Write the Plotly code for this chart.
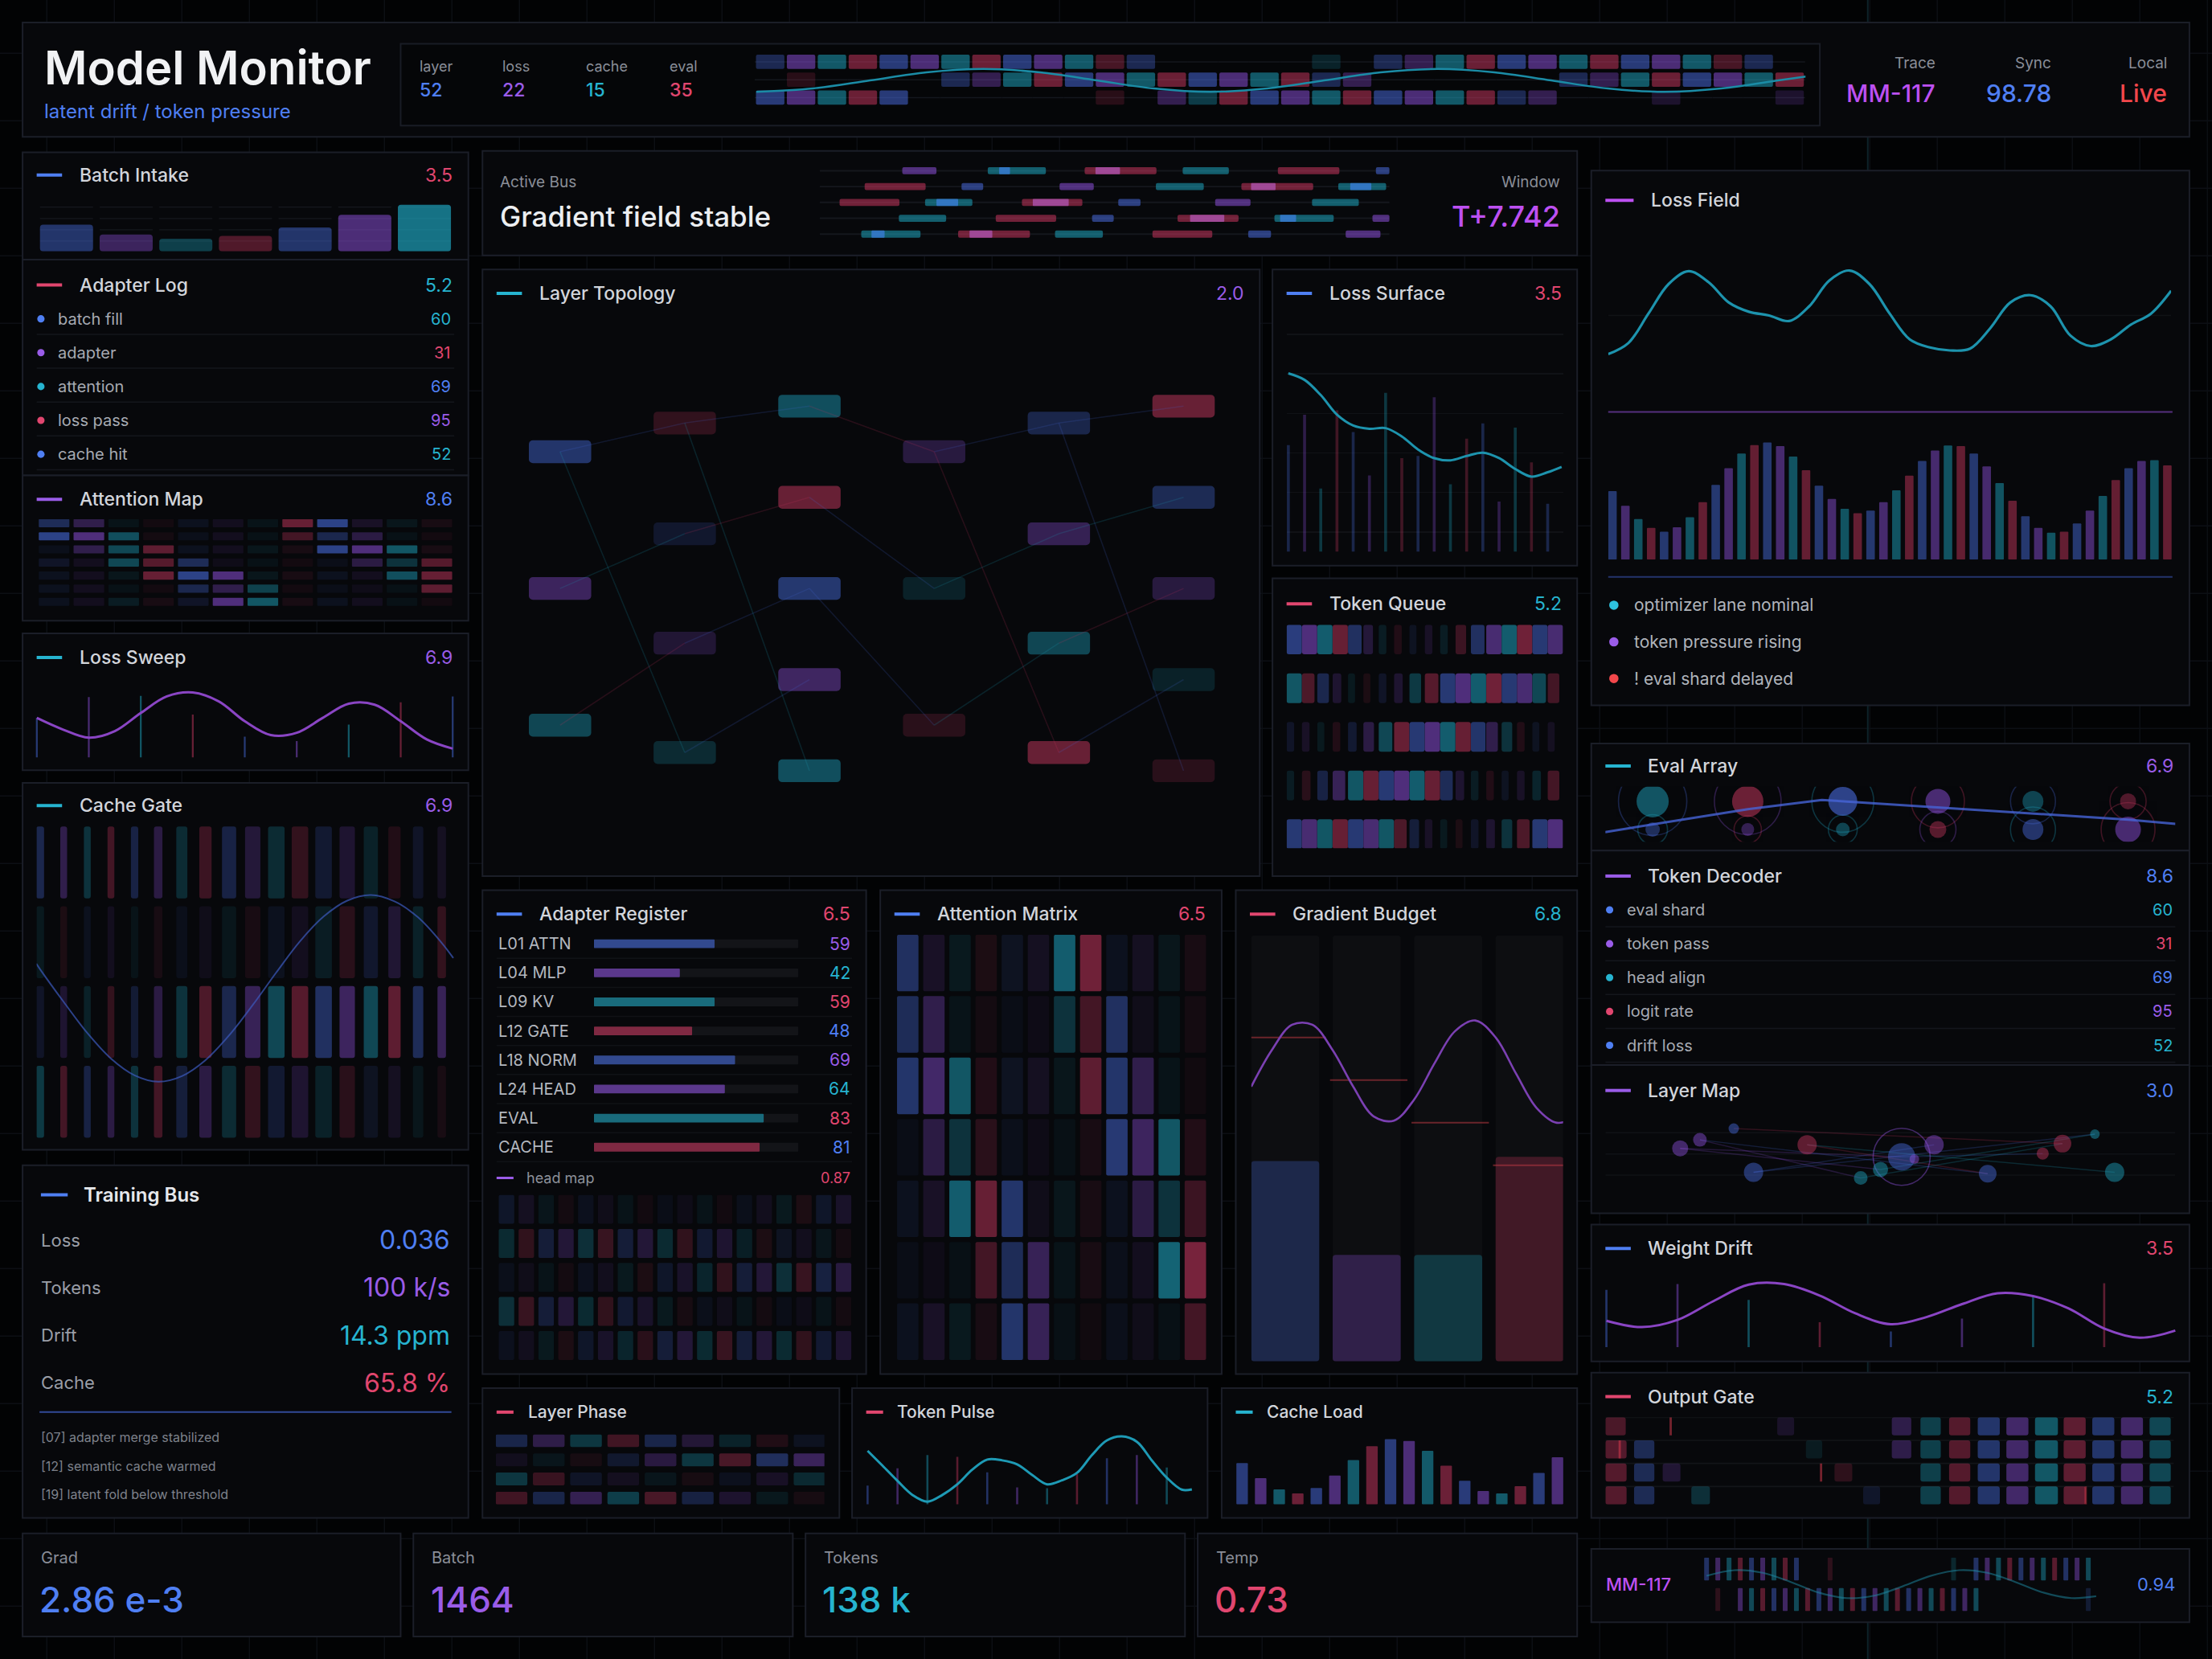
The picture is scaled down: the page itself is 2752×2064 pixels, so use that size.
import plotly.graph_objects as go

SW, SH = 1568.0, 1176.0
W, H = 2752, 2064
FONT = "Inter, 'Noto Sans', Roboto, sans-serif"
BG = '#020304'
PANEL = '#07080b'
BORDER = '#1b1e28'
GRIDC = '#0c0f14'
TITLE_C = '#d2d5db'
LABEL_C = '#8a8e98'
PAL = {'b': (72, 108, 222), 'p': (140, 80, 218), 't': (30, 165, 192), 'r': (200, 55, 95)}
TXT = {'b': '#4f7ff3', 'p': '#9a5ce8', 't': '#26b4d0', 'r': '#e1466f', 'm': '#bd50f2', 'l': '#f2474b'}
CYC = ['b', 'p', 't', 'r']

# ======================= DATA =======================
hdr_stat_names = ['layer', 'loss', 'cache', 'eval']
hdr_stat_vals = [52, 22, 15, 35]
hdr_stat_cols = ['b', 'p', 't', 'r']
hdr_right_names = ['Trace', 'Sync', 'Local']
hdr_right_vals = ['MM-117', '98.78', 'Live']
hdr_right_cols = ['m', 'b', 'l']
hdr_strip0 = [2, 3, 3, 3, 3, 3, 3, 3, 3, 3, 3, 2, 2, 0, 0, 0, 0, 0, 1, 0, 2, 2, 3, 3, 3, 3, 3, 3, 3, 3, 3, 2, 2, 0]
hdr_strip1 = [0, 1, 0, 0, 0, 0, 2, 2, 3, 3, 3, 3, 3, 3, 3, 3, 3, 3, 2, 2, 0, 0, 0, 0, 0, 0, 2, 2, 3, 3, 3, 3, 3, 3]
hdr_strip2 = [3, 3, 3, 3, 3, 0, 0, 0, 0, 0, 0, 1, 0, 2, 2, 3, 3, 3, 3, 3, 3, 3, 3, 3, 2, 2, 0, 0, 0, 1, 0, 0, 0, 1]
hdr_strip_shift = [0, 2, 0]
hdr_wave_x = [-0.45, 1.39, 3.23, 5.06, 6.9, 8.74, 10.58, 12.41, 14.25, 16.09, 17.93, 19.76, 21.6, 23.44, 25.28, 27.11, 28.95, 30.79, 32.63, 33.52]
hdr_wave_y = [2.14, 1.95, 1.5, 1.05, 0.86, 1.05, 1.5, 1.95, 2.14, 1.95, 1.5, 1.05, 0.86, 1.05, 1.5, 1.95, 2.14, 1.95, 1.5, 1.28]

batch_vals = [19, 12, 9, 11, 17, 26, 33]
batch_heat = [0.45, 0.4, 0.35, 0.38, 0.45, 0.52, 0.68]
batch_tracks = [31, 23, 15, 7]

log_items = ['batch fill', 'adapter', 'attention', 'loss pass', 'cache hit']
log_dot = ['b', 'p', 't', 'r', 'b']
log_vals = [60, 31, 69, 95, 52]
log_valc = ['t', 'r', 'b', 'p', 't']

attn_map = [
    [0.4, 0.35, 0.08, 0.05, 0.1, 0.1, 0.08, 0.55, 0.65, 0.15, 0.1, 0.1],
    [0.65, 0.6, 0.5, 0.08, 0.08, 0.1, 0.05, 0.35, 0.35, 0.3, 0.05, 0.05],
    [0.08, 0.35, 0.45, 0.5, 0.1, 0.1, 0.1, 0.1, 0.65, 0.6, 0.55, 0.1],
    [0.15, 0.1, 0.45, 0.45, 0.4, 0.05, 0.05, 0.05, 0.05, 0.3, 0.3, 0.45],
    [0.1, 0.1, 0.1, 0.55, 0.65, 0.6, 0.1, 0.1, 0.1, 0.1, 0.5, 0.55],
    [0.1, 0.1, 0.05, 0.05, 0.35, 0.35, 0.4, 0.05, 0.05, 0.05, 0.05, 0.5],
    [0.1, 0.1, 0.15, 0.1, 0.15, 0.6, 0.55, 0.1, 0.1, 0.1, 0.05, 0.05],
]

sweep_stems = [120, 183, 187, 130, 63, 50, 100, 167, 185]
sweep_curve = [120, 85, 60, 80, 135, 185, 197, 170, 110, 68, 75, 120, 163, 160, 110, 55, 27]

gate_width = [0.34, 0.29, 0.29, 0.29, 0.31, 0.36, 0.47, 0.52, 0.6, 0.65, 0.7, 0.7, 0.7, 0.65, 0.6, 0.52, 0.44, 0.36]
gate_heat = [
    [0.35, 0.35, 0.3, 0.35, 0.3, 0.3, 0.25, 0.3, 0.3, 0.25, 0.25, 0.25, 0.2, 0.2, 0.18, 0.15, 0.15, 0.12],
    [0.12, 0.12, 0.1, 0.1, 0.08, 0.1, 0.08, 0.08, 0.1, 0.1, 0.1, 0.1, 0.15, 0.2, 0.18, 0.22, 0.18, 0.25],
    [0.15, 0.2, 0.18, 0.25, 0.22, 0.3, 0.3, 0.4, 0.35, 0.4, 0.45, 0.45, 0.45, 0.45, 0.45, 0.5, 0.4, 0.4],
    [0.35, 0.35, 0.3, 0.3, 0.3, 0.35, 0.25, 0.3, 0.25, 0.25, 0.2, 0.2, 0.18, 0.2, 0.12, 0.12, 0.1, 0.1],
]
gate_shift = [0, 2, 0, 2]
gate_wave_x = [-0.16, 0, 1, 2, 3, 4, 5, 6, 7, 8, 9, 10, 11, 12, 13, 14, 15, 16, 17, 17.49]
gate_wave_y = [1.72, 1.79, 2.2, 2.59, 2.91, 3.12, 3.2, 3.13, 2.93, 2.62, 2.24, 1.83, 1.44, 1.13, 0.93, 0.86, 0.94, 1.14, 1.46, 1.65]

train_labels = ['Loss', 'Tokens', 'Drift', 'Cache']
train_values = ['0.036', '100 k/s', '14.3 ppm', '65.8 %']
train_cols = ['b', 'p', 't', 'r']
train_log = ['[07] adapter merge stabilized', '[12] semantic cache warmed', '[19] latent fold below threshold']

card_labels = ['Grad', 'Batch', 'Tokens', 'Temp']
card_values = ['2.86 e-3', '1464', '138 k', '0.73']
card_cols = ['b', 'p', 't', 'r']

bus_segments = [
    [('p', 14.5, 20.5), ('t', 29.5, 39.7), ('r', 46.5, 59.1), ('t', 63.7, 71.8), ('r', 80.4, 91.2), ('b', 97.6, 100)],
    [('r', 7.9, 18.6), ('b', 24.9, 28.7), ('p', 42.1, 48.1), ('t', 59, 67.4), ('r', 74, 86.6), ('t', 91, 99.4)],
    [('r', 3.5, 14), ('t', 18.5, 26.8), ('r', 35.5, 46.1), ('b', 52.4, 56.3), ('p', 69.4, 75.6), ('t', 86.4, 94.6)],
    [('t', 13.9, 22.2), ('r', 30.9, 41.5), ('b', 47.8, 51.6), ('r', 62.8, 73.5), ('t', 79.8, 90.2), ('p', 97, 100)],
    [('t', 7.3, 17.7), ('r', 24.3, 36.9), ('t', 41.3, 49.7), ('r', 58.4, 68.9), ('b', 75.2, 79.2), ('p', 92.3, 98.4)],
]
bus_highlights = [
    [('b', 31.5, 33.4), ('p', 48.4, 52.7)],
    [('p', 75.7, 80), ('b', 93.1, 96.8)],
    [('b', 20.5, 24.3), ('p', 37.4, 43.7)],
    [('p', 65, 71), ('b', 80.8, 83.6)],
    [('b', 9.1, 11.4), ('p', 26.3, 30.3)],
]

topo_layer = [0, 0, 0, 1, 1, 1, 1, 2, 2, 2, 2, 2, 3, 3, 3, 4, 4, 4, 4, 5, 5, 5, 5, 5]
topo_level = [1, 4, 7, 0.37, 2.8, 5.2, 7.6, 0, 2, 4, 6, 8, 1, 4, 7, 0.37, 2.8, 5.2, 7.6, 0, 2, 4, 6, 8]
topo_kind = ['b', 'p', 't', 'r', 'b', 'p', 't', 't', 'r', 'b', 'p', 't', 'p', 't', 'r', 'b', 'p', 't', 'r', 'r', 'b', 'p', 't', 'r']
topo_heat = [0.45, 0.4, 0.4, 0.22, 0.16, 0.2, 0.22, 0.45, 0.5, 0.48, 0.42, 0.45, 0.25, 0.16, 0.18, 0.3, 0.35, 0.4, 0.5, 0.5, 0.35, 0.25, 0.16, 0.18]
topo_edges = [(0, 3), (3, 7), (7, 12), (12, 15), (15, 19), (0, 6), (3, 11), (1, 4), (4, 8), (8, 13), (13, 16), (16, 20),
              (2, 5), (5, 9), (9, 14), (14, 17), (17, 21), (6, 10), (12, 18), (18, 22), (15, 23)]
topo_edge_kind = ['b', 'b', 'r', 'b', 'b', 't', 't', 't', 'r', 'b', 't', 't', 'r', 'b', 'b', 't', 'r', 'b', 'r', 'b', 'b']

surf_bars = [49, 63, 29, 65, 55, 35, 73, 43, 44, 71, 31, 52, 59, 23, 57, 41, 22]
surf_line = [82, 79, 72, 63, 58, 56.5, 56.8, 53, 47, 43, 42, 44, 45.5, 43, 38, 34.5, 36.5, 39]

queue_heat = [
    [0.6, 0.6, 0.6, 0.55, 0.45, 0.25, 0.15, 0.15, 0.12, 0.15, 0.15, 0.3, 0.45, 0.55, 0.6, 0.6, 0.55, 0.55],
    [0.55, 0.4, 0.35, 0.2, 0.12, 0.12, 0.15, 0.2, 0.35, 0.45, 0.55, 0.6, 0.6, 0.6, 0.55, 0.55, 0.45, 0.35],
    [0.15, 0.15, 0.12, 0.15, 0.2, 0.3, 0.45, 0.55, 0.55, 0.6, 0.6, 0.55, 0.5, 0.35, 0.3, 0.15, 0.12, 0.12],
    [0.15, 0.2, 0.3, 0.4, 0.55, 0.55, 0.55, 0.6, 0.6, 0.55, 0.4, 0.2, 0.15, 0.15, 0.12, 0.15, 0.2, 0.35],
    [0.55, 0.55, 0.55, 0.55, 0.55, 0.55, 0.55, 0.4, 0.25, 0.15, 0.12, 0.12, 0.15, 0.2, 0.3, 0.4, 0.55, 0.6],
]
queue_shift = [0, 2, 0, 2, 0]

field_curve = [30, 60, 140, 220, 255, 225, 170, 145, 135, 120, 160, 230, 257, 220, 140, 70, 48, 40, 45, 100, 170, 190, 160, 80, 52, 70, 110, 140, 202]
field_bars = [186, 146, 110, 86, 76, 88, 115, 156, 203, 248, 288, 311, 318, 308, 280, 243, 201, 165, 138, 126, 133, 156, 188, 228,
              268, 296, 310, 308, 288, 253, 208, 160, 118, 86, 73, 76, 98, 133, 173, 216, 248, 268, 270, 256]
field_notes = ['optimizer lane nominal', 'token pressure rising', '! eval shard delayed']
field_note_cols = ['#2ec2df', '#9a5ce8', '#f2474b']

eval_hi = [40, 39, 36, 31, 26, 20]
eval_lo = [18, 16, 17, 21, 26, 32]
eval_hi_ring = [85, 83, 77, 66, 56, 45]
eval_lo_ring = [37, 34, 36, 45, 56, 67]
eval_hi_kind = ['t', 'r', 'b', 'p', 't', 'r']
eval_lo_kind = ['b', 'p', 't', 'r', 'b', 'p']
eval_hi_alpha = [0.7, 0.75, 0.85, 0.72, 0.55, 0.55]
eval_lo_alpha = [0.55, 0.5, 0.55, 0.6, 0.65, 0.7]
eval_hi_ring_kind = ['b', 'p', 't', 'r', 'b', 'r']
eval_lo_ring_kind = ['t', 'r', 't', 'p', 't', 'r']
eval_trend_x = [-0.5, 1.0, 1.78, 2.23, 4.0, 5.0, 5.5]
eval_trend_y = [-0.09, 0.72, 1.05, 0.95, 0.56, 0.35, 0.2]

dec_items = ['eval shard', 'token pass', 'head align', 'logit rate', 'drift loss']
dec_dot = ['b', 'p', 't', 'r', 'b']
dec_vals = [60, 31, 69, 95, 52]
dec_valc = ['t', 'r', 'b', 'p', 't']

map_x = [53, 67, 91, 105, 143, 181, 195, 210, 219, 233, 271, 310, 324, 347, 361]
map_y = [31, 37, 45, 14, 33.5, 10, 16, 25, 23.4, 33.5, 13, 27.3, 34.3, 41, 14]
map_size = [20, 17, 13, 24, 24, 17, 19, 34, 12, 24, 22, 15, 22, 12, 24]
map_kind = ['p', 'p', 'b', 'b', 'r', 't', 't', 'b', 'p', 'p', 'b', 'r', 'r', 't', 't']
map_edges = [(0, 6), (1, 10), (2, 12), (3, 9), (4, 14), (5, 12), (6, 13), (0, 7), (7, 11), (4, 10), (3, 13), (1, 5)]
map_edge_kind = ['p', 'b', 'r', 'b', 't', 't', 't', 'p', 'b', 'r', 'b', 'p']

drift_stems = [200, 220, 165, 87, 55, 100, 177, 223]
drift_curve = [92, 70, 95, 160, 218, 220, 180, 118, 80, 105, 150, 188, 178, 135, 65, 33, 58]

out_heat = [
    [0.35, 0, 0, 0, 0, 0, 0.15, 0, 0, 0, 0.3, 0.35, 0.4, 0.45, 0.45, 0.5, 0.45, 0.45, 0.45, 0.4],
    [0.4, 0.35, 0, 0, 0, 0, 0, 0.12, 0, 0, 0.3, 0.35, 0.4, 0.45, 0.45, 0.5, 0.45, 0.45, 0.45, 0.4],
    [0.4, 0.35, 0.2, 0, 0, 0, 0, 0, 0.2, 0, 0, 0.35, 0.4, 0.45, 0.45, 0.5, 0.45, 0.45, 0.45, 0.4],
    [0.4, 0.35, 0, 0.25, 0, 0, 0, 0, 0, 0.15, 0, 0.35, 0.4, 0.45, 0.45, 0.5, 0.45, 0.45, 0.45, 0.4],
]
out_cycle = ['r', 'b', 'p', 't']
out_ticks_row = [0, 1, 2, 3]
out_ticks_x = [2.24, 0.46, 7.49, 16.73]

mm_top = [3] * 9 + [0, 0, 2] + [0] * 10 + [2, 0] + [3] * 11
mm_bot = [0, 2, 0] + [3] * 22 + [0] * 9 + [2]
mm_wave_x = [0, 2.5, 5, 7.5, 10, 12.5, 15, 17.5, 20, 22.5, 25, 27.5, 30, 32.5, 34.7]
mm_wave_y = [0.6, 0.415, 0.5, 0.8, 1.145, 1.325, 1.24, 0.935, 0.596, 0.415, 0.5, 0.8, 1.145, 1.325, 1.264]

reg_names = ['L01 ATTN', 'L04 MLP', 'L09 KV', 'L12 GATE', 'L18 NORM', 'L24 HEAD', 'EVAL', 'CACHE']
reg_vals = [59, 42, 59, 48, 69, 64, 83, 81]
reg_bar = ['b', 'p', 't', 'r', 'b', 'p', 't', 'r']
reg_valc = ['p', 't', 'r', 'b', 'p', 't', 'r', 'b']
head_map = [
    [0.2, 0.15, 0.12, 0.1, 0.12, 0.1, 0.1, 0.08, 0.08, 0.08, 0.1, 0.08, 0.1, 0.12, 0.15, 0.15, 0.2, 0.2],
    [0.3, 0.3, 0.3, 0.3, 0.35, 0.35, 0.3, 0.3, 0.3, 0.3, 0.25, 0.25, 0.2, 0.15, 0.15, 0.12, 0.12, 0.1],
    [0.1, 0.1, 0.1, 0.1, 0.12, 0.12, 0.15, 0.15, 0.2, 0.2, 0.25, 0.3, 0.3, 0.3, 0.35, 0.35, 0.35, 0.35],
    [0.35, 0.35, 0.3, 0.3, 0.3, 0.3, 0.25, 0.2, 0.15, 0.12, 0.1, 0.1, 0.1, 0.1, 0.08, 0.08, 0.1, 0.1],
    [0.12, 0.12, 0.15, 0.15, 0.2, 0.2, 0.25, 0.25, 0.3, 0.3, 0.3, 0.35, 0.3, 0.3, 0.3, 0.3, 0.25, 0.25],
]
head_shift = [0, 2, 0, 2, 0]

attn_matrix = [
    [0.45, 0.15, 0.12, 0.12, 0.12, 0.12, 0.6, 0.6, 0.1, 0.12, 0.1, 0.1],
    [0.4, 0.35, 0.08, 0.08, 0.06, 0.06, 0.3, 0.35, 0.45, 0.08, 0.08, 0.08],
    [0.5, 0.5, 0.55, 0.15, 0.12, 0.12, 0.1, 0.5, 0.5, 0.35, 0.08, 0.06],
    [0.06, 0.3, 0.3, 0.2, 0.08, 0.06, 0.06, 0.1, 0.55, 0.45, 0.55, 0.15],
    [0.1, 0.15, 0.6, 0.55, 0.5, 0.08, 0.1, 0.1, 0.1, 0.3, 0.3, 0.3],
    [0.06, 0.06, 0.06, 0.35, 0.4, 0.4, 0.08, 0.1, 0.08, 0.1, 0.65, 0.65],
    [0.1, 0.15, 0.12, 0.1, 0.5, 0.4, 0.06, 0.06, 0.08, 0.08, 0.06, 0.35],
]

budget_fill = [47, 25, 25, 48]
budget_kind = ['b', 'p', 't', 'r']
budget_mark = [76, 66, 56, 46]
budget_wave = [64.5, 73, 79, 79, 73, 64.5, 57.5, 56.5, 61.5, 70, 77.5, 80, 76, 67.5, 59.5, 56, 57.5]

phase_heat = [
    [0.35, 0.35, 0.35, 0.35, 0.35, 0.25, 0.2, 0.15, 0.12],
    [0.1, 0.1, 0.1, 0.2, 0.3, 0.35, 0.4, 0.45, 0.45],
    [0.35, 0.3, 0.15, 0.12, 0.1, 0.1, 0.1, 0.15, 0.25],
    [0.35, 0.35, 0.4, 0.4, 0.4, 0.3, 0.2, 0.12, 0.1],
]
phase_shift = [0, 1, 2, 3]

pulse_stems = [70, 135, 185, 178, 120, 63, 60, 113, 173, 185, 138]
pulse_curve = [201, 145, 88, 35, 10, 35, 75, 130, 168, 165, 150, 110, 75, 90, 118, 185, 240, 255, 235, 165, 100, 55, 56]
cache_load = [155, 98, 56, 41, 61, 108, 166, 218, 245, 238, 201, 145, 88, 50, 41, 68, 118, 177]

# ======================= HELPERS =======================
fig = go.Figure()
shp = []
ann = []
axes = {}
ax_n = [0]


def rgba(k, a):
    r, g, b = PAL[k]
    return 'rgba(%d,%d,%d,%.3f)' % (r, g, b, a)


def new_ax(x0, x1, y0, y1, xr, yr, ygrid=None):
    ax_n[0] += 1
    s = '' if ax_n[0] == 1 else str(ax_n[0])
    axes['xaxis' + s] = dict(domain=[x0 / SW, x1 / SW], range=list(xr), visible=False, fixedrange=True, anchor='y' + s)
    ya = dict(domain=[1 - y1 / SH, 1 - y0 / SH], range=list(yr), fixedrange=True, anchor='x' + s)
    if ygrid:
        ya.update(visible=True, showgrid=True, gridcolor=ygrid[1], gridwidth=1.5, tickvals=ygrid[0],
                  showticklabels=False, ticks='', zeroline=False, showline=False)
    else:
        ya.update(visible=False)
    axes['yaxis' + s] = ya
    return ('x' + s, 'y' + s)


def add(tr, ax):
    tr.update(xaxis=ax[0], yaxis=ax[1], hoverinfo='skip', showlegend=False)
    fig.add_trace(tr)


def text(x, y, s, size, color, anchor='left', weight=400):
    ann.append(dict(x=x / SW, y=1 - y / SH, xref='paper', yref='paper', text=s, showarrow=False,
                    xanchor=anchor, yanchor='middle', font=dict(family=FONT, size=size, color=color, weight=weight)))


def rect(x0, y0, x1, y1, fill, line=None, lw=2, layer='below'):
    shp.append(dict(type='rect', xref='paper', yref='paper', x0=x0 / SW, x1=x1 / SW, y0=1 - y1 / SH, y1=1 - y0 / SH,
                    fillcolor=fill, line=dict(color=line or 'rgba(0,0,0,0)', width=lw if line else 0), layer=layer))


def seg(x0, y0, x1, y1, color, lw=2, layer='below'):
    shp.append(dict(type='line', xref='paper', yref='paper', x0=x0 / SW, x1=x1 / SW, y0=1 - y0 / SH, y1=1 - y1 / SH,
                    line=dict(color=color, width=lw), layer=layer))


def dot(cx, cy, r, color):
    shp.append(dict(type='circle', xref='paper', yref='paper', x0=(cx - r) / SW, x1=(cx + r) / SW,
                    y0=1 - (cy + r) / SH, y1=1 - (cy - r) / SH, fillcolor=color, line=dict(width=0), layer='above'))


def panel(x0, y0, x1, y1, title=None, sw=None, val=None, valc=None, ty=None, tsize=23, swl=18, small=False):
    rect(x0, y0, x1, y1, PANEL, BORDER)
    if title:
        seg(x0 + 10, ty, x0 + 10 + swl, ty, sw, lw=4)
        text(x0 + 19 + swl + (0 if small else 2), ty, title, tsize, TITLE_C, weight=500)
        if val is not None:
            text(x1 - 10, ty, val, tsize, TXT[valc], anchor='right')


def bars(ax, xs, heights, bases, colors, width, offset=None, radius=2, orientation='v'):
    kw = dict(width=width, marker=dict(color=colors, line=dict(width=0), cornerradius=radius))
    if offset is not None:
        kw['offset'] = offset
    if orientation == 'h':
        add(go.Bar(y=xs, x=heights, base=bases, orientation='h', **kw), ax)
    else:
        add(go.Bar(x=xs, y=heights, base=bases, **kw), ax)


def grid_blocks(ax, matrix, shifts, height, width, radius=2, cycle=CYC, gain=1.0):
    for r, row in enumerate(matrix):
        xs = [k for k, v in enumerate(row) if v > 0]
        cols = [rgba(cycle[(k + shifts[r]) % 4], row[k] * gain) for k in xs]
        bars(ax, xs, [height] * len(xs), [r] * len(xs), cols, width, radius=radius)


# ======================= BACKGROUND =======================
gx = 33.2
while gx < SW:
    seg(gx, 0, gx, SH, GRIDC, lw=1.5)
    gx += 47.86
gy = 37.8 - 47.86
while gy < SH:
    if gy > 0:
        seg(0, gy, SW, gy, GRIDC, lw=1.5)
    gy += 47.86
seg(1324, 0, 1324, SH, '#0d2329', lw=2)

# ======================= HEADER =======================
panel(16, 16, 1552, 97)
text(30, 48, 'Model Monitor', 58, '#f1f2f4', weight=600)
text(30, 79, 'latent drift / token pressure', 24, TXT['b'])
rect(284, 31, 1290, 89, '#050608', '#191c25')
for i in range(4):
    x = 296 + 59.2 * i
    text(x, 47, hdr_stat_names[i], 18, LABEL_C)
    text(x, 64, str(hdr_stat_vals[i]), 23, TXT[hdr_stat_cols[i]], weight=500)
ax = new_ax(535, 1280, 38, 76, [-0.5, 33.52], [3, 0])
STRIP_A = {1: 0.18, 2: 0.34, 3: 0.52}
for r, row in enumerate([hdr_strip0, hdr_strip1, hdr_strip2]):
    bars(ax, list(range(34)), [0.07] * 34, [r + 0.43] * 34, ['#14171d'] * 34, 1.0, radius=0)
    xs = [k for k, v in enumerate(row) if v]
    bars(ax, xs, [0.8] * len(xs), [r + 0.06] * len(xs),
         [rgba(CYC[(k + hdr_strip_shift[r]) % 4], STRIP_A[row[k]]) for k in xs], 0.92, radius=2)
add(go.Scatter(x=hdr_wave_x, y=hdr_wave_y, mode='lines', line=dict(color='#1b8ca6', width=2.5, shape='spline')), ax)
for i, xr in enumerate([1373, 1455, 1537]):
    text(xr, 45, hdr_right_names[i], 19, LABEL_C, anchor='right')
    text(xr, 66, hdr_right_vals[i], 30, TXT[hdr_right_cols[i]], anchor='right', weight=500)

# ======================= LEFT COLUMN =======================
panel(16, 108, 332, 184, 'Batch Intake', TXT['b'], '3.5', 'r', ty=124)
ax = new_ax(26, 322, 141, 178.2, [-0.5, 6.5], [0, 37.2])
for lv in batch_tracks:
    bars(ax, list(range(7)), [0.7] * 7, [lv] * 7, ['#16181e'] * 7, 0.89, radius=0)
bars(ax, list(range(7)), batch_vals, [0] * 7, [rgba(CYC[k % 4], batch_heat[k]) for k in range(7)], 0.89, radius=4)

panel(16, 184, 332, 337, 'Adapter Log', TXT['r'], '5.2', 't', ty=202)
for i in range(5):
    y = 226 + 24 * i
    dot(29, y, 2.6, TXT[log_dot[i]])
    text(40, y, log_items[i], 20, '#a6aab2')
    text(321, y, str(log_vals[i]), 20, TXT[log_valc[i]], anchor='right')
    seg(26, y + 11, 322, y + 11, '#14161c', lw=1.5)

panel(16, 337, 332, 440, 'Attention Map', TXT['p'], '8.6', 'b', ty=354)
ax = new_ax(26, 322, 368, 433, [-0.5, 11.5], [6.69, -0.31])
for r, row in enumerate(attn_map):
    xs = list(range(12))
    bars(ax, xs, [0.62] * 12, [r - 0.31] * 12, [rgba(CYC[k % 4], max(row[k], 0.07) * 0.9) for k in xs], 0.88, radius=1)

panel(16, 449, 332, 546, 'Loss Sweep', TXT['t'], '6.9', 'p', ty=466)
ax = new_ax(25, 322, 478, 537, [-0.03, 8.03], [0, 252])
bars(ax, list(range(9)), sweep_stems, [0] * 9, [rgba(CYC[k % 4], 0.5) for k in range(9)], 0.035, radius=0)
add(go.Scatter(x=[k * 0.5 for k in range(17)], y=sweep_curve, mode='lines',
               line=dict(color='#8a45c4', width=3, shape='spline')), ax)

panel(16, 555, 332, 815, 'Cache Gate', TXT['t'], '6.9', 'p', ty=571)
ax = new_ax(26, 322, 584, 812, [-0.143, 17.53], [4.0, -0.032])
for r, row in enumerate(gate_heat):
    xs = list(range(18))
    bars(ax, xs, [0.903] * 18, [r] * 18, [rgba(CYC[(k + gate_shift[r]) % 4], row[k] * 0.9) for k in xs],
         gate_width, radius=3)
add(go.Scatter(x=gate_wave_x, y=gate_wave_y, mode='lines', line=dict(color='rgba(60,90,190,0.7)', width=2, shape='spline')), ax)

panel(16, 826, 332, 1076)
seg(29, 847, 48, 847, TXT['b'], lw=4)
text(58, 847, 'Training Bus', 24, '#e6e8ec', weight=600)
for i in range(4):
    y = 879 + 33.7 * i
    text(28, y, train_labels[i], 22, '#9a9ea7')
    text(320, y, train_values[i], 32, TXT[train_cols[i]], anchor='right')
seg(28, 1001, 320, 1001, 'rgba(64,96,200,0.75)', lw=2)
for i, line in enumerate(train_log):
    text(28, 1019 + 20 * i, line, 16, '#7e828b')

for i, (x0, x1) in enumerate([(16, 284), (293, 562), (571, 840), (849, 1118)]):
    panel(x0, 1087, x1, 1160)
    text(x0 + 12, 1104, card_labels[i], 20, LABEL_C)
    text(x0 + 11, 1134, card_values[i], 44, TXT[card_cols[i]], weight=500)

# ======================= CENTER =======================
panel(342, 107, 1118, 181)
text(353, 129, 'Active Bus', 19, LABEL_C)
text(353, 153, 'Gradient field stable', 35, '#eceef1', weight=500)
text(1107, 129, 'Window', 19, LABEL_C, anchor='right')
text(1107, 153, 'T+7.742', 36, TXT['m'], anchor='right', weight=500)
ax = new_ax(581, 985, 115.4, 171.6, [0, 100], [4.5, -0.5])
bars(ax, list(range(5)), [100] * 5, [0] * 5, ['#15171d'] * 5, 0.1, radius=0, orientation='h')
for r in range(5):
    segs = bus_segments[r]
    bars(ax, [r] * len(segs), [e - s for _, s, e in segs], [s for _, s, e in segs],
         [rgba(k, 0.55) for k, _, _ in segs], 0.45, radius=2, orientation='h')
    hl = bus_highlights[r]
    bars(ax, [r] * len(hl), [e - s for _, s, e in hl], [s for _, s, e in hl],
         ['rgba(60,125,220,0.75)' if k == 'b' else 'rgba(175,85,180,0.75)' for k, _, _ in hl], 0.45, radius=1, orientation='h')

panel(342, 191, 893, 621, 'Layer Topology', TXT['t'], '2.0', 'p', ty=208)
ax = new_ax(342, 893, 191, 621, [-0.622, 5.611], [10.31, -3.0])
bars(ax, topo_layer, [0.5] * 24, [v - 0.25 for v in topo_level],
     [rgba(k, a) for k, a in zip(topo_kind, topo_heat)], 0.5, radius=5)
for kind in ['b', 't', 'r']:
    ex, ey = [], []
    for (a, b), k in zip(topo_edges, topo_edge_kind):
        if k == kind:
            ex += [topo_layer[a], topo_layer[b], None]
            ey += [topo_level[a], topo_level[b], None]
    add(go.Scatter(x=ex, y=ey, mode='lines', line=dict(color=rgba(kind, 0.17), width=1.6)), ax)

panel(902, 191, 1118, 401, 'Loss Surface', TXT['b'], '3.5', 'r', ty=208)
ax = new_ax(912, 1108, 232, 392, [-0.11, 16.95], [-0.65, 103.2], ygrid=([9, 27.2, 45.4, 63.6, 81.8, 100], '#101216'))
bars(ax, list(range(17)), surf_bars, [0] * 17, [rgba(CYC[k % 4], 0.3) for k in range(17)], 0.18, radius=0)
add(go.Scatter(x=list(range(17)) + [16.86], y=surf_line, mode='lines',
               line=dict(color='#1d93ad', width=3, shape='spline')), ax)

panel(902, 410, 1118, 621, 'Token Queue', TXT['r'], '5.2', 't', ty=428)
ax = new_ax(912, 1108, 442.8, 601.3, [0, 18], [4.595, 0])
for r, row in enumerate(queue_heat):
    xs = list(range(18))
    widths = [min(0.99, 0.3 + 1.3 * v) for v in row]
    bars(ax, xs, [0.61] * 18, [r] * 18, [rgba(CYC[(k + queue_shift[r]) % 4], row[k] * 0.9) for k in xs],
         widths, offset=0, radius=3)

panel(342, 631, 614, 974, 'Adapter Register', TXT['b'], '6.5', 'r', ty=648)
ax = new_ax(421, 566, 658.7, 823.5, [0, 100], [7.5, -0.5])
bars(ax, list(range(8)), [100] * 8, [0] * 8, ['#131418'] * 8, 0.3, radius=1, orientation='h')
bars(ax, list(range(8)), reg_vals, [0] * 8, [rgba(k, 0.6) for k in reg_bar], 0.3, radius=1, orientation='h')
for i in range(8):
    y = 669 + 20.6 * i
    text(352, y, reg_names[i], 20, '#b3b7bf')
    text(604, y, str(reg_vals[i]), 21, TXT[reg_valc[i]], anchor='right')
    seg(352, y + 10.3, 604, y + 10.3, '#101216', lw=1.5)
seg(352, 835, 364, 835, TXT['p'], lw=3)
text(372, 835, 'head map', 18, '#8d919a')
text(604, 835, '0.87', 18, TXT['r'], anchor='right')
ax = new_ax(352, 605, 847, 964, [-0.5, 17.5], [4.85, 0])
grid_blocks(ax, head_map, head_shift, 0.85, 0.78, radius=2, gain=0.72)

panel(624, 631, 866, 974, 'Attention Matrix', TXT['b'], '6.5', 'r', ty=648)
ax = new_ax(634.2, 856.6, 662.6, 964, [-0.5, 11.5], [6.92, 0])
grid_blocks(ax, attn_matrix, [0] * 7, 0.92, 0.82, radius=2, gain=0.9)

panel(876, 631, 1118, 974, 'Gradient Budget', TXT['r'], '6.8', 't', ty=648)
ax = new_ax(887, 1108, 663, 965, [-0.416, 3.41], [0, 100])
bars(ax, list(range(4)), [100] * 4, [0] * 4, ['#0d0e11'] * 4, 0.836, radius=4)
bars(ax, list(range(4)), budget_fill, [0] * 4, [rgba(k, 0.28) for k in budget_kind], 0.836, radius=4)
mx, my = [], []
for c, v in enumerate(budget_mark):
    mx += [c - 0.45, c + 0.5, None]
    my += [v, v, None]
add(go.Scatter(x=mx, y=my, mode='lines', line=dict(color='rgba(200,60,70,0.5)', width=2)), ax)
add(go.Scatter(x=[-0.416 + 0.25 * k for k in range(17)], y=budget_wave, mode='lines',
               line=dict(color='#7b40b2', width=2.6, shape='spline')), ax)

panel(342, 984, 595, 1076, 'Layer Phase', TXT['r'], ty=1001, tsize=21, swl=12, small=True)
ax = new_ax(351.4, 584.4, 1016.7, 1066.5, [-0.424, 8.40], [3.667, 0])
grid_blocks(ax, phase_heat, phase_shift, 0.667, 0.85, radius=2, gain=0.85)

panel(604, 984, 856, 1076, 'Token Pulse', TXT['r'], ty=1001, tsize=21, swl=12, small=True)
ax = new_ax(613, 847, 1012, 1067, [-0.094, 10.94], [-3.7, 288])
bars(ax, list(range(11)), pulse_stems, [0] * 11, [rgba(CYC[k % 4], 0.42) for k in range(11)], 0.07, radius=0)
add(go.Scatter(x=[k * 0.5 for k in range(22)] + [10.84], y=pulse_curve, mode='lines',
               line=dict(color='#1e9ab5', width=3, shape='spline')), ax)

panel(866, 984, 1118, 1076, 'Cache Load', TXT['t'], ty=1001, tsize=21, swl=12, small=True)
ax = new_ax(873, 1111, 1012, 1067, [-0.57, 17.53], [-3.7, 288])
bars(ax, list(range(18)), cache_load, [0] * 18, [rgba(CYC[k % 4], 0.52) for k in range(18)], 0.62, radius=1)

# ======================= RIGHT COLUMN =======================
panel(1128, 121, 1552, 500, 'Loss Field', TXT['m'], ty=142, swl=20)
ax = new_ax(1140, 1539, 170, 275, [0, 28], [-61.8, 340.3])
add(go.Scatter(x=[0, 28], y=[135, 135], mode='lines', line=dict(color='#101216', width=1.5)), ax)
add(go.Scatter(x=list(range(29)), y=field_curve, mode='lines', line=dict(color='#1d93ad', width=3.2, shape='spline')), ax)
seg(1140, 292, 1540, 292, 'rgba(140,75,205,0.6)', lw=2)
ax = new_ax(1140, 1540, 292, 396.7, [-0.33, 43.4], [0, 401])
bars(ax, list(range(44)), field_bars, [0] * 44, [rgba(CYC[k % 4], 0.48) for k in range(44)], 0.66, radius=1)
seg(1140, 409, 1540, 409, 'rgba(60,90,190,0.55)', lw=2)
for i in range(3):
    y = 429 + 26 * i
    dot(1144, y, 3.3, field_note_cols[i])
    text(1157, y, field_notes[i], 21, '#b0b4bb')

panel(1128, 527, 1552, 603, 'Eval Array', TXT['t'], '6.9', 'p', ty=543)
ax = new_ax(1138, 1542, 557.6, 596.7, [-0.497, 5.497], [-0.435, 1.52])
add(go.Scatter(x=list(range(6)), y=[1] * 6, mode='markers',
               marker=dict(size=eval_hi_ring, color='rgba(0,0,0,0)',
                           line=dict(color=[rgba(k, 0.42) for k in eval_hi_ring_kind], width=1.6))), ax)
add(go.Scatter(x=list(range(6)), y=[0] * 6, mode='markers',
               marker=dict(size=eval_lo_ring, color='rgba(0,0,0,0)',
                           line=dict(color=[rgba(k, 0.42) for k in eval_lo_ring_kind], width=1.6))), ax)
add(go.Scatter(x=list(range(6)), y=[1] * 6, mode='markers',
               marker=dict(size=eval_hi, color=[rgba(k, a) for k, a in zip(eval_hi_kind, eval_hi_alpha)], line=dict(width=0))), ax)
add(go.Scatter(x=list(range(6)), y=[0] * 6, mode='markers',
               marker=dict(size=eval_lo, color=[rgba(k, a) for k, a in zip(eval_lo_kind, eval_lo_alpha)], line=dict(width=0))), ax)
add(go.Scatter(x=eval_trend_x, y=eval_trend_y, mode='lines', line=dict(color='rgba(70,100,215,0.8)', width=3)), ax)

panel(1128, 603, 1552, 755, 'Token Decoder', TXT['p'], '8.6', 'b', ty=621)
for i in range(5):
    y = 645 + 24 * i
    dot(1141, y, 2.6, TXT[dec_dot[i]])
    text(1152, y, dec_items[i], 20, '#a6aab2')
    text(1541, y, str(dec_vals[i]), 20, TXT[dec_valc[i]], anchor='right')
    seg(1138, y + 12, 1542, y + 12, '#14161c', lw=1.5)

panel(1128, 755, 1552, 860, 'Layer Map', TXT['p'], '3.0', 'b', ty=773)
ax = new_ax(1138, 1542, 790, 845, [0, 404], [0, 55])
for gv in [42, 27, 12]:
    add(go.Scatter(x=[0, 404], y=[gv, gv], mode='lines', line=dict(color='#101216', width=1.5)), ax)
for kind in ['p', 'b', 'r', 't']:
    ex, ey = [], []
    for (a, b), k in zip(map_edges, map_edge_kind):
        if k == kind:
            ex += [map_x[a], map_x[b], None]
            ey += [map_y[a], map_y[b], None]
    add(go.Scatter(x=ex, y=ey, mode='lines', line=dict(color=rgba(kind, 0.22), width=1.5)), ax)
add(go.Scatter(x=[map_x[7]], y=[map_y[7]], mode='markers',
               marker=dict(size=71, color='rgba(0,0,0,0)', line=dict(color=rgba('p', 0.45), width=1.6))), ax)
add(go.Scatter(x=map_x, y=map_y, mode='markers',
               marker=dict(size=map_size, color=[rgba(k, 0.65) for k in map_kind], line=dict(width=0))), ax)

panel(1128, 868, 1552, 965, 'Weight Drift', TXT['b'], '3.5', 'r', ty=885)
ax = new_ax(1137, 1543, 897, 955, [-0.034, 8.02], [0, 285])
bars(ax, list(range(8)), drift_stems, [0] * 8, [rgba(CYC[k % 4], 0.45) for k in range(8)], 0.03, radius=0)
add(go.Scatter(x=[k * 0.5 for k in range(17)], y=drift_curve, mode='lines',
               line=dict(color='#8a45c4', width=3, shape='spline')), ax)

panel(1128, 973, 1552, 1076, 'Output Gate', TXT['r'], '5.2', 't', ty=990)
ax = new_ax(1138, 1541, 1004.7, 1066.5, [0, 19.85], [3.785, 0])
bars(ax, list(range(4)), [19.85] * 4, [0] * 4, ['#131519'] * 4, 0.06, radius=0, orientation='h')
for r, row in enumerate(out_heat):
    xs = [k for k, v in enumerate(row) if v > 0]
    bars(ax, xs, [0.785] * len(xs), [r] * len(xs), [rgba(out_cycle[k % 4], row[k]) for k in xs],
         [0.5 + 0.6 * row[k] for k in xs], offset=0, radius=3)
bars(ax, out_ticks_x, [0.785] * 4, out_ticks_row, ['rgba(225,60,80,0.5)'] * 4, 0.08, offset=0, radius=0)

panel(1128, 1098, 1552, 1150)
text(1137, 1123, 'MM-117', 22, TXT['m'], weight=500)
text(1543, 1123, '0.94', 22, TXT['b'], anchor='right')
ax = new_ax(1204, 1487, 1104, 1142.1, [-0.72, 34.84], [1.75, 0])
for r, (row, sh) in enumerate([(mm_top, 0), (mm_bot, 2)]):
    xs = [k for k, v in enumerate(row) if v]
    bars(ax, xs, [0.75] * len(xs), [r] * len(xs),
         [rgba(CYC[(k + sh) % 4], 0.42 if row[k] == 3 else 0.2) for k in xs], 0.43, radius=1)
add(go.Scatter(x=mm_wave_x, y=mm_wave_y, mode='lines', line=dict(color='rgba(30,140,165,0.5)', width=2.2, shape='spline')), ax)

# ======================= LAYOUT =======================
fig.update_layout(width=W, height=H, margin=dict(l=0, r=0, t=0, b=0, pad=0), paper_bgcolor=BG,
                  plot_bgcolor='rgba(0,0,0,0)', barmode='overlay', showlegend=False,
                  shapes=shp, annotations=ann, font=dict(family=FONT), **axes)
fig.write_html('out.html', include_plotlyjs=True, config={'displayModeBar': False, 'staticPlot': True})
